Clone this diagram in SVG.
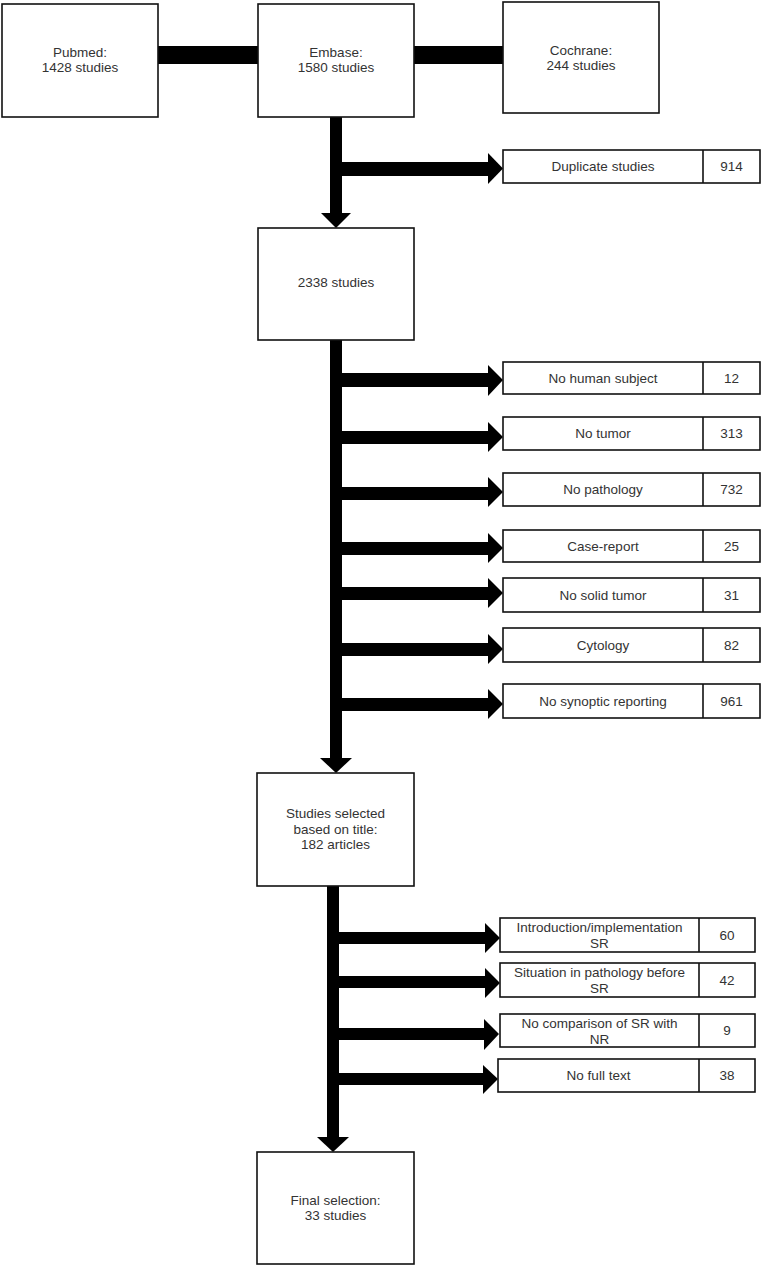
<svg xmlns="http://www.w3.org/2000/svg" width="761" height="1266" viewBox="0 0 761 1266">
<style>
.box{fill:#fff;stroke:#111;stroke-width:1.6}
.t{font-family:"Liberation Sans",Arial,sans-serif;font-size:13.5px;fill:#333;text-anchor:middle}
.c{fill:#000}
</style>
<rect width="761" height="1266" fill="#fff"/>
<g id="connectors">
<rect class="c" x="158" y="46" width="100" height="18"/>
<rect class="c" x="414" y="46" width="89" height="18"/>
<rect class="c" x="330" y="117" width="12" height="97"/>
<polygon class="c" points="321,213 351,213 336,228"/>
<rect class="c" x="336" y="162" width="153" height="14"/>
<polygon class="c" points="488,153 488,184 503,168.5"/>
<rect class="c" x="330" y="340" width="12" height="419"/>
<polygon class="c" points="320,758 352,758 336,773"/>
<rect class="c" x="336" y="373" width="153" height="14"/>
<polygon class="c" points="488,365 488,396 503,380"/>
<rect class="c" x="336" y="431" width="153" height="13"/>
<polygon class="c" points="488,422 488,452 503,437"/>
<rect class="c" x="336" y="487" width="153" height="13"/>
<polygon class="c" points="488,477 488,507 503,492"/>
<rect class="c" x="336" y="542" width="153" height="13"/>
<polygon class="c" points="488,533 488,563 503,548"/>
<rect class="c" x="336" y="587" width="153" height="13"/>
<polygon class="c" points="488,578 488,608 503,593"/>
<rect class="c" x="336" y="643" width="153" height="13"/>
<polygon class="c" points="488,634 488,664 503,649"/>
<rect class="c" x="336" y="698" width="153" height="13"/>
<polygon class="c" points="488,689 488,719 503,704"/>
<rect class="c" x="327" y="886" width="12" height="252"/>
<polygon class="c" points="317,1137 349,1137 333,1152"/>
<rect class="c" x="333" y="932" width="153" height="12"/>
<polygon class="c" points="485,923 485,953 500,938"/>
<rect class="c" x="333" y="976" width="153" height="12"/>
<polygon class="c" points="485,968 485,998 500,983"/>
<rect class="c" x="333" y="1028" width="152" height="12"/>
<polygon class="c" points="484,1019 484,1050 499,1034"/>
<rect class="c" x="333" y="1073" width="151" height="12"/>
<polygon class="c" points="483,1065 483,1094 498,1079"/>
</g>
<g id="pubmed"><rect class="box" x="2" y="4" width="156" height="113"/><text class="t" x="80" y="57">Pubmed:</text><text class="t" x="80" y="72">1428 studies</text></g>
<g id="embase"><rect class="box" x="258" y="4" width="156" height="113"/><text class="t" x="336" y="57">Embase:</text><text class="t" x="336" y="72">1580 studies</text></g>
<g id="cochrane"><rect class="box" x="503" y="2" width="156" height="111"/><text class="t" x="581" y="55">Cochrane:</text><text class="t" x="581" y="70">244 studies</text></g>
<g id="duplicate"><rect class="box" x="503" y="150" width="257" height="33"/><line x1="703" y1="150" x2="703" y2="183" stroke="#111" stroke-width="1.6"/><text class="t" x="603" y="171">Duplicate studies</text><text class="t" x="731.5" y="171">914</text></g>
<g id="n2338"><rect class="box" x="258" y="228" width="156" height="112"/><text class="t" x="336" y="287">2338 studies</text></g>
<g id="nohuman"><rect class="box" x="503" y="362" width="257" height="32"/><line x1="703" y1="362" x2="703" y2="394" stroke="#111" stroke-width="1.6"/><text class="t" x="603" y="382.5">No human subject</text><text class="t" x="731.5" y="382.5">12</text></g>
<g id="notumor"><rect class="box" x="503" y="417" width="257" height="33"/><line x1="703" y1="417" x2="703" y2="450" stroke="#111" stroke-width="1.6"/><text class="t" x="603" y="438">No tumor</text><text class="t" x="731.5" y="438">313</text></g>
<g id="nopathology"><rect class="box" x="503" y="473" width="257" height="33"/><line x1="703" y1="473" x2="703" y2="506" stroke="#111" stroke-width="1.6"/><text class="t" x="603" y="494">No pathology</text><text class="t" x="731.5" y="494">732</text></g>
<g id="casereport"><rect class="box" x="503" y="530" width="257" height="32"/><line x1="703" y1="530" x2="703" y2="562" stroke="#111" stroke-width="1.6"/><text class="t" x="603" y="550.5">Case-report</text><text class="t" x="731.5" y="550.5">25</text></g>
<g id="nosolid"><rect class="box" x="503" y="578" width="257" height="34"/><line x1="703" y1="578" x2="703" y2="612" stroke="#111" stroke-width="1.6"/><text class="t" x="603" y="599.5">No solid tumor</text><text class="t" x="731.5" y="599.5">31</text></g>
<g id="cytology"><rect class="box" x="503" y="628" width="257" height="34"/><line x1="703" y1="628" x2="703" y2="662" stroke="#111" stroke-width="1.6"/><text class="t" x="603" y="649.5">Cytology</text><text class="t" x="731.5" y="649.5">82</text></g>
<g id="nosynoptic"><rect class="box" x="503" y="684" width="257" height="34"/><line x1="703" y1="684" x2="703" y2="718" stroke="#111" stroke-width="1.6"/><text class="t" x="603" y="705.5">No synoptic reporting</text><text class="t" x="731.5" y="705.5">961</text></g>
<g id="selected"><rect class="box" x="257" y="773" width="157" height="113"/><text class="t" x="335.5" y="818">Studies selected</text><text class="t" x="335.5" y="834">based on title:</text><text class="t" x="335.5" y="849">182 articles</text></g>
<g id="intro"><rect class="box" x="500" y="918" width="255" height="34"/><line x1="699" y1="918" x2="699" y2="952" stroke="#111" stroke-width="1.6"/><text class="t" x="599.5" y="932">Introduction/implementation</text><text class="t" x="599.5" y="948">SR</text><text class="t" x="727" y="940">60</text></g>
<g id="situation"><rect class="box" x="500" y="963" width="255" height="34"/><line x1="699" y1="963" x2="699" y2="997" stroke="#111" stroke-width="1.6"/><text class="t" x="599.5" y="977">Situation in pathology before</text><text class="t" x="599.5" y="993">SR</text><text class="t" x="727" y="985">42</text></g>
<g id="nocomparison"><rect class="box" x="500" y="1014" width="255" height="33"/><line x1="699" y1="1014" x2="699" y2="1047" stroke="#111" stroke-width="1.6"/><text class="t" x="599.5" y="1028">No comparison of SR with</text><text class="t" x="599.5" y="1044">NR</text><text class="t" x="727" y="1035">9</text></g>
<g id="nofulltext"><rect class="box" x="498" y="1059" width="257" height="33"/><line x1="699" y1="1059" x2="699" y2="1092" stroke="#111" stroke-width="1.6"/><text class="t" x="598.5" y="1080">No full text</text><text class="t" x="727" y="1080">38</text></g>
<g id="final"><rect class="box" x="257" y="1152" width="157" height="112"/><text class="t" x="335.5" y="1205">Final selection:</text><text class="t" x="335.5" y="1220">33 studies</text></g>
</svg>
